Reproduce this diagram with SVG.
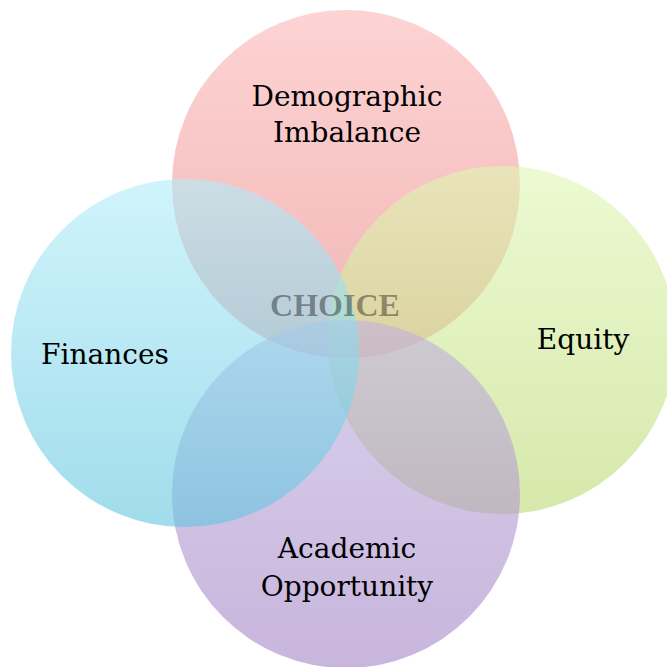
<svg xmlns="http://www.w3.org/2000/svg" width="667" height="667" viewBox="0 0 667 667">
<defs>
<linearGradient id="gTop" x1="0" y1="0" x2="0" y2="1"><stop offset="0" stop-color="#fcb6b6"/><stop offset="1" stop-color="#e98484"/></linearGradient>
<linearGradient id="gRight" x1="0" y1="0" x2="0" y2="1"><stop offset="0" stop-color="#dff7b3"/><stop offset="1" stop-color="#bbd973"/></linearGradient>
<linearGradient id="gBottom" x1="0" y1="0" x2="0" y2="1"><stop offset="0" stop-color="#c2b1df"/><stop offset="1" stop-color="#a384c5"/></linearGradient>
<linearGradient id="gLeft" x1="0" y1="0" x2="0" y2="1"><stop offset="0" stop-color="#b1edfa"/><stop offset="1" stop-color="#62c5df"/></linearGradient>
<style>
.c{fill-opacity:0.6}
.t{font-family:"DejaVu Serif","Liberation Serif",serif;font-size:28px;fill:#000;text-anchor:middle}
.ch{font-family:"Liberation Serif",serif;font-weight:bold;font-size:32px;fill:#000;fill-opacity:0.38;text-anchor:middle}
</style>
</defs>
<rect width="667" height="667" fill="#fff"/>
<g id="top"><circle class="c" cx="346" cy="184" r="174" fill="url(#gTop)"/></g>
<g id="right"><circle class="c" cx="502" cy="340" r="174" fill="url(#gRight)"/></g>
<g id="bottom"><circle class="c" cx="346" cy="494" r="174" fill="url(#gBottom)"/></g>
<g id="left"><circle class="c" cx="185" cy="353" r="174" fill="url(#gLeft)"/></g>
<g id="connectors"/>
<g id="labels">
<text class="t" x="347" y="106">Demographic</text>
<text class="t" x="347" y="142">Imbalance</text>
<text class="t" x="583" y="349">Equity</text>
<text class="t" x="105" y="364">Finances</text>
<text class="t" x="347" y="558">Academic</text>
<text class="t" x="347" y="596">Opportunity</text>
<text class="ch" x="335" y="316">CHOICE</text>
</g>
</svg>
